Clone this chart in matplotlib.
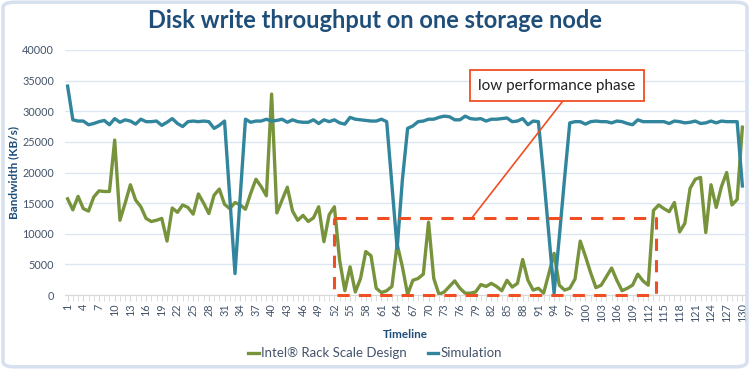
import matplotlib
matplotlib.use("Agg")
import matplotlib.pyplot as plt
from matplotlib.patches import FancyBboxPatch
import numpy as np

plt.rcParams['font.family'] = ['Lato', 'DejaVu Sans']

timeline = list(range(1, 131))

intel_rsd = [
    15700, 13900, 16100, 14100, 13700, 16000, 17000, 16900, 16900, 25300,
    12200, 15000, 18000, 15500, 14400, 12500, 12000, 12200, 12500, 8800,
    14200, 13500, 14700, 14300, 13200, 16500, 15000, 13300, 16300, 17300,
    14800, 14100, 15100, 14700, 14000, 16600, 18900, 17700, 16200, 32800,
    13400, 15500, 17600, 13700, 12200, 13000, 12000, 12600, 14400, 8700,
    13100, 14400, 5700, 700, 4600, 500, 2700, 7100, 6400, 1100,
    400, 700, 1400, 8300, 4600, 100, 2400, 2700, 3400, 11900,
    2700, 100, 500, 1400, 2300, 1100, 300, 300, 500, 1700,
    1400, 1900, 1400, 700, 2400, 1300, 1900, 5800, 2400, 800,
    1100, 300, 3500, 6800, 1600, 800, 1100, 2600, 8800, 6300,
    3600, 1200, 1600, 3000, 4400, 2400, 700, 1100, 1600, 3400,
    2300, 1600, 13800, 14700, 14100, 13600, 15100, 10300, 11700, 17400,
    18900, 19200, 10200, 18000, 14300, 17700, 20000, 14700, 15600, 27400,
]

simulation = [
    34100, 28600, 28400, 28400, 27800, 28000, 28300, 28500, 27800, 28800,
    28200, 28600, 28400, 27900, 28700, 28300, 28300, 28400, 27700, 28200,
    28800, 28000, 27500, 28300, 28400, 28300, 28400, 28300, 27200, 27700,
    28400, 16000, 3500, 16000, 28700, 28200, 28400, 28400, 28700, 28400,
    28500, 28700, 28200, 28600, 28300, 28200, 28200, 28600, 28000, 28600,
    28300, 28600, 28100, 27900, 29000, 28700, 28600, 28500, 28400, 28400,
    28700, 28300, 18000, 7600, 18800, 27200, 27600, 28300, 28400, 28700,
    28700, 29000, 29200, 29100, 28600, 28600, 29200, 28800, 28700, 28800,
    28400, 28700, 28700, 28800, 28900, 28300, 28400, 28800, 27800, 28400,
    28300, 19500, 10000, 300, 9500, 19000, 28100, 28300, 28300, 27900,
    28300, 28400, 28300, 28300, 28100, 28400, 28300, 28000, 27800, 28600,
    28300, 28300, 28300, 28300, 28300, 28000, 28400, 28300, 28100, 28200,
    28400, 28000, 28100, 28400, 28100, 28400, 28300, 28300, 28300, 17800,
]

xtick_labels = [str(v) for v in range(1, 131, 3)]
ytick_values = list(range(0, 40001, 5000))

GREEN = '#77933C'
TEAL = '#31859C'
RED = '#F04E23'
TXT = '#44546A'
DARK = '#1F4E79'

fig = plt.figure(figsize=(7.5, 3.69), dpi=100)
ax = fig.add_axes([65/750, 1-295/369, 680/750, 245/369])

ax.plot(timeline, intel_rsd, color=GREEN, lw=2.4, label='Intel® Rack Scale Design', solid_joinstyle='round')
ax.plot(timeline, simulation, color=TEAL, lw=2.4, label='Simulation', solid_joinstyle='round')

ax.set_xlim(0.5, 130.5)
ax.set_ylim(0, 40000)
ax.set_yticks(ytick_values)
ax.set_yticklabels([str(v) for v in ytick_values])
ax.set_xticks(list(range(1, 131, 3)))
ax.set_xticklabels(xtick_labels, rotation=90)
ax.set_xticks(timeline, minor=True)
ax.tick_params(axis='x', which='both', length=4, color='#D9D9D9', colors=TXT, labelsize=7.8, pad=2, direction='out')
ax.tick_params(axis='x', which='minor', length=4, color='#D9D9D9')
ax.tick_params(axis='y', length=0, colors=TXT, labelsize=7.8, pad=8)
for s in ['top', 'right', 'left']:
    ax.spines[s].set_visible(False)
ax.spines['bottom'].set_color('#D9D9D9')
ax.grid(axis='y', color='#DCE6F2', lw=1)
ax.set_axisbelow(True)

ax.set_xlabel('Timeline', fontsize=8.5, fontweight='bold', color=DARK, labelpad=5)
ax.set_ylabel('Bandwidth (KB/s)', fontsize=8.5, fontweight='bold', color=DARK, labelpad=2)

# low performance phase box
bx0, bx1, by0, by1 = 52, 113.4, 0, 12600
ax.plot([bx0, bx1, bx1, bx0, bx0], [by1, by1, by0, by0, by1], color=RED, lw=2.2,
        ls=(0, (4, 3)), clip_on=False, zorder=5)
ax.plot([78.3, 95.7], [by1, 31700], color=RED, lw=1.2, zorder=5)
ax.text(94.5, 34200, 'low performance phase', ha='center', va='center', fontsize=11,
        color='#222222', zorder=6,
        bbox=dict(boxstyle='square,pad=0.55', fc='white', ec=RED, lw=1.3))

fig.suptitle('Disk write throughput on one storage node', x=0.5, y=0.975, fontsize=17,
             fontweight='bold', color=DARK)

leg = fig.legend(loc='center', bbox_to_anchor=(0.5, 0.043), ncol=2, frameon=False,
                 fontsize=9.5, handlelength=0.8, handletextpad=0.15, columnspacing=1.6)
for t in leg.get_texts():
    t.set_color(TXT)

border = FancyBboxPatch((0.004, 0.006), 0.992, 0.988, boxstyle='round,pad=0,rounding_size=0.015',
                        transform=fig.transFigure, fc='none', ec='#D6E0EE', lw=2.5)
fig.patches.append(border)

fig.savefig('out.png', dpi=100, facecolor='white')
